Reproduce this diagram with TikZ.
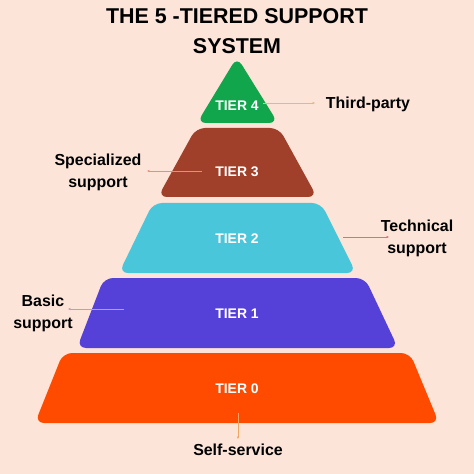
\documentclass[tikz,border=0pt]{standalone}
\usepackage{fontspec}
\setmainfont{Liberation Sans}
\usetikzlibrary{arrows.meta}
\definecolor{bgc}{HTML}{FCE4D9}
\definecolor{cfour}{HTML}{12A64C}
\definecolor{cthree}{HTML}{A0402A}
\definecolor{ctwo}{HTML}{49C6DA}
\definecolor{cone}{HTML}{5540D8}
\definecolor{czero}{HTML}{FF4B00}
\definecolor{lfour}{HTML}{F2B27C}
\definecolor{lthree}{HTML}{E8906F}
\definecolor{ltwo}{HTML}{E8697A}
\definecolor{lone}{HTML}{C99AB2}
\definecolor{lzero}{HTML}{EFA564}
\begin{document}
\begin{tikzpicture}[x=1bp,y=-1bp,
  tierbox/.style={rounded corners=9bp},
  tiertext/.style={text=white,font=\bfseries\fontsize{14}{16}\selectfont,anchor=base,inner sep=0pt},
  lbl/.style={text=black,font=\bfseries\fontsize{16}{22}\selectfont,anchor=base,inner sep=0pt},
  ttl/.style={text=black,font=\bfseries\fontsize{21.5}{26}\selectfont,anchor=base,inner sep=0pt},
  conn/.style={line width=0.8pt,-{Latex[length=2.5pt,width=2.5pt]}}]
\fill[bgc] (0,0) rectangle (474,474);
\useasboundingbox (0,0) rectangle (474,474);
% title
\node[ttl] (title1) at (237,24) {THE 5 -TIERED SUPPORT};
\node[ttl] (title2) at (237,54) {SYSTEM};
% tiers
\fill[cfour,tierbox] (237,57) -- (278,123) -- (197,123) -- cycle;
\fill[cthree,tierbox] (196,128) -- (279,128) -- (317,197) -- (158,197) -- cycle;
\fill[ctwo,tierbox] (153,203) -- (321,203) -- (356,273) -- (119,273) -- cycle;
\fill[cone,tierbox] (104,278) -- (365,278) -- (398,348) -- (77,348) -- cycle;
\fill[czero,tierbox] (63,353) -- (410,353) -- (439,423) -- (35,423) -- cycle;
% tier texts
\node[tiertext] (t4) at (237,111) {TIER 4};
\node[tiertext] (t3) at (237,177) {TIER 3};
\node[tiertext] (t2) at (237,243) {TIER 2};
\node[tiertext] (t1) at (237,318) {TIER 1};
\node[tiertext] (t0) at (237,393) {TIER 0};
% labels
\node[lbl] (l4) at (368,109) {Third-party};
\node[lbl] (l3a) at (98,166) {Specialized};
\node[lbl] (l3b) at (98,188) {support};
\node[lbl] (l2a) at (417,232) {Technical};
\node[lbl] (l2b) at (417,253) {support};
\node[lbl] (l1a) at (43,306) {Basic};
\node[lbl] (l1b) at (43,328) {support};
\node[lbl] (l0) at (238,455) {Self-service};
% connectors
\coordinate (c4a) at (263,103); \coordinate (c4b) at (315,103);
\coordinate (c3a) at (202,171); \coordinate (c3b) at (147,171);
\coordinate (c2a) at (343,237); \coordinate (c2b) at (389,237);
\coordinate (c1a) at (124,309); \coordinate (c1b) at (68,309);
\coordinate (c0a) at (238,413); \coordinate (c0b) at (238,439);
\draw[conn,lfour] (c4a) -- (c4b);
\draw[conn,lthree] (c3a) -- (c3b);
\draw[conn,ltwo] (c2a) -- (c2b);
\draw[conn,lone] (c1a) -- (c1b);
\draw[conn,lzero] (c0a) -- (c0b);
\end{tikzpicture}
\end{document}
